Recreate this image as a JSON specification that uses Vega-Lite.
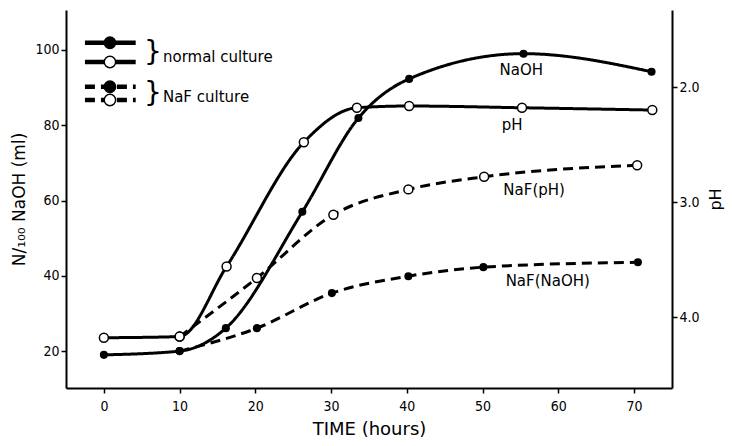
{
  "$schema": "https://vega.github.io/schema/vega-lite/v6.json",
  "width": 606,
  "height": 378,
  "autosize": {"type": "none"},
  "padding": {"left": 66, "top": 10, "right": 60, "bottom": 58},
  "background": "white",
  "config": {
    "view": {"stroke": null},
    "font": "DejaVu Sans",
    "axis": {
      "grid": false,
      "domainColor": "black",
      "domainWidth": 2,
      "tickColor": "black",
      "tickWidth": 1.5,
      "tickSize": 5,
      "labelColor": "black",
      "labelFont": "DejaVu Sans Condensed",
      "labelFontSize": 14,
      "titleColor": "black",
      "titleFont": "DejaVu Sans",
      "titleFontWeight": "normal",
      "titleFontSize": 16
    }
  },
  "datasets": {
    "naoh": [
      {"time": 0, "value": 19, "culture": "normal"},
      {"time": 10, "value": 20, "culture": "normal"},
      {"time": 16.1, "value": 26.1, "culture": "normal"},
      {"time": 26.2, "value": 57, "culture": "normal"},
      {"time": 33.6, "value": 81.9, "culture": "normal"},
      {"time": 40.3, "value": 92.3, "culture": "normal"},
      {"time": 55.4, "value": 99, "culture": "normal"},
      {"time": 72.3, "value": 94.2, "culture": "normal"},
      {"time": 10, "value": 20, "culture": "NaF"},
      {"time": 20.2, "value": 26.1, "culture": "NaF"},
      {"time": 30.1, "value": 35.4, "culture": "NaF"},
      {"time": 40.2, "value": 39.9, "culture": "NaF"},
      {"time": 50.1, "value": 42.3, "culture": "NaF"},
      {"time": 70.5, "value": 43.6, "culture": "NaF"}
    ],
    "ph": [
      {"time": 0, "ph": 4.18, "culture": "normal"},
      {"time": 10, "ph": 4.17, "culture": "normal"},
      {"time": 16.2, "ph": 3.56, "culture": "normal"},
      {"time": 26.4, "ph": 2.48, "culture": "normal"},
      {"time": 33.4, "ph": 2.18, "culture": "normal"},
      {"time": 40.3, "ph": 2.165, "culture": "normal"},
      {"time": 55.2, "ph": 2.18, "culture": "normal"},
      {"time": 72.4, "ph": 2.2, "culture": "normal"},
      {"time": 10, "ph": 4.17, "culture": "NaF"},
      {"time": 20.2, "ph": 3.66, "culture": "NaF"},
      {"time": 30.3, "ph": 3.11, "culture": "NaF"},
      {"time": 40.2, "ph": 2.89, "culture": "NaF"},
      {"time": 50.2, "ph": 2.78, "culture": "NaF"},
      {"time": 70.4, "ph": 2.68, "culture": "NaF"}
    ],
    "labels": [
      {"time": 55.1, "value": 94.7, "text": "NaOH"},
      {"time": 53.9, "value": 80.1, "text": "pH"},
      {"time": 56.8, "value": 62.8, "text": "NaF(pH)"},
      {"time": 58.6, "value": 38.6, "text": "NaF(NaOH)"}
    ],
    "legend": [
      {"x1": -2.5, "x2": 4.2, "xm": 0.8, "y": 101.9, "culture": "normal", "marker": "filled"},
      {"x1": -2.5, "x2": 4.2, "xm": 0.8, "y": 96.8, "culture": "normal", "marker": "open"},
      {"x1": -2.5, "x2": 4.2, "xm": 0.8, "y": 90.2, "culture": "NaF", "marker": "filled"},
      {"x1": -2.5, "x2": 4.2, "xm": 0.8, "y": 86.7, "culture": "NaF", "marker": "open"}
    ],
    "legendText": [
      {"xb": 5.3, "yb": 99.3, "xt": 7.8, "y": 98.1, "text": "normal culture"},
      {"xb": 5.3, "yb": 88.4, "xt": 7.8, "y": 87.5, "text": "NaF culture"}
    ]
  },
  "layer": [
    {
      "layer": [
        {
          "data": {"name": "naoh"},
          "mark": {"type": "line", "interpolate": "monotone", "color": "black", "strokeWidth": 3},
          "encoding": {
            "x": {"field": "time", "type": "quantitative", "scale": {"domain": [-5, 75], "nice": false, "zero": false},
              "axis": {"values": [0, 10, 20, 30, 40, 50, 60, 70], "title": "TIME (hours)", "titleFontSize": 18, "labelPadding": 6, "titlePadding": 7}},
            "y": {"field": "value", "type": "quantitative", "scale": {"domain": [10.2, 110.6], "nice": false, "zero": false},
              "axis": {"orient": "left", "values": [20, 40, 60, 80, 100], "title": "N/₁₀₀ NaOH (ml)", "titleFontSize": 17, "titlePadding": 6}},
            "detail": {"field": "culture"},
            "strokeDash": {"field": "culture", "type": "nominal", "scale": {"domain": ["normal", "NaF"], "range": [[1, 0], [10, 6]]}, "legend": null}
          }
        },
        {
          "data": {"name": "naoh"},
          "mark": {"type": "point", "shape": "circle", "filled": true, "color": "black", "size": 65, "opacity": 1},
          "encoding": {
            "x": {"field": "time", "type": "quantitative"},
            "y": {"field": "value", "type": "quantitative"}
          }
        },
        {
          "data": {"name": "labels"},
          "mark": {"type": "text", "font": "DejaVu Sans", "fontSize": 15, "color": "black", "align": "center", "baseline": "middle"},
          "encoding": {
            "x": {"field": "time", "type": "quantitative"},
            "y": {"field": "value", "type": "quantitative"},
            "text": {"field": "text"}
          }
        },
        {
          "data": {"name": "legend"},
          "mark": {"type": "rule", "color": "black", "strokeWidth": 4.5},
          "encoding": {
            "x": {"field": "x1", "type": "quantitative"},
            "x2": {"field": "x2"},
            "y": {"field": "y", "type": "quantitative"},
            "strokeDash": {"field": "culture", "type": "nominal", "scale": {"domain": ["normal", "NaF"], "range": [[1, 0], [10, 6]]}, "legend": null}
          }
        },
        {
          "data": {"name": "legend"},
          "mark": {"type": "point", "shape": "circle", "size": 130, "strokeWidth": 1.5, "stroke": "black", "opacity": 1},
          "encoding": {
            "x": {"field": "xm", "type": "quantitative"},
            "y": {"field": "y", "type": "quantitative"},
            "fill": {"field": "marker", "type": "nominal", "scale": {"domain": ["filled", "open"], "range": ["black", "white"]}, "legend": null}
          }
        },
        {
          "data": {"name": "legendText"},
          "mark": {"type": "text", "font": "DejaVu Sans", "fontSize": 28, "fontWeight": "normal", "color": "black", "align": "left", "baseline": "middle", "text": "}"},
          "encoding": {
            "x": {"field": "xb", "type": "quantitative"},
            "y": {"field": "yb", "type": "quantitative"}
          }
        },
        {
          "data": {"name": "legendText"},
          "mark": {"type": "text", "font": "DejaVu Sans", "fontSize": 15, "color": "black", "align": "left", "baseline": "middle"},
          "encoding": {
            "x": {"field": "xt", "type": "quantitative"},
            "y": {"field": "y", "type": "quantitative"},
            "text": {"field": "text"}
          }
        }
      ]
    },
    {
      "layer": [
        {
          "data": {"name": "ph"},
          "mark": {"type": "line", "interpolate": "monotone", "color": "black", "strokeWidth": 3},
          "encoding": {
            "x": {"field": "time", "type": "quantitative"},
            "y": {"field": "ph", "type": "quantitative", "scale": {"domain": [1.33, 4.617], "reverse": true, "nice": false, "zero": false},
              "axis": {"orient": "right", "values": [2, 3, 4], "format": ".1f", "title": "pH", "titleAngle": -90, "titleFontSize": 16, "titlePadding": 24}},
            "detail": {"field": "culture"},
            "strokeDash": {"field": "culture", "type": "nominal", "scale": {"domain": ["normal", "NaF"], "range": [[1, 0], [10, 6]]}, "legend": null}
          }
        },
        {
          "data": {"name": "ph"},
          "mark": {"type": "point", "shape": "circle", "filled": true, "fill": "white", "stroke": "black", "strokeWidth": 1.5, "size": 80, "opacity": 1},
          "encoding": {
            "x": {"field": "time", "type": "quantitative"},
            "y": {"field": "ph", "type": "quantitative"}
          }
        }
      ]
    }
  ],
  "resolve": {"scale": {"y": "independent", "strokeDash": "shared"}}
}
